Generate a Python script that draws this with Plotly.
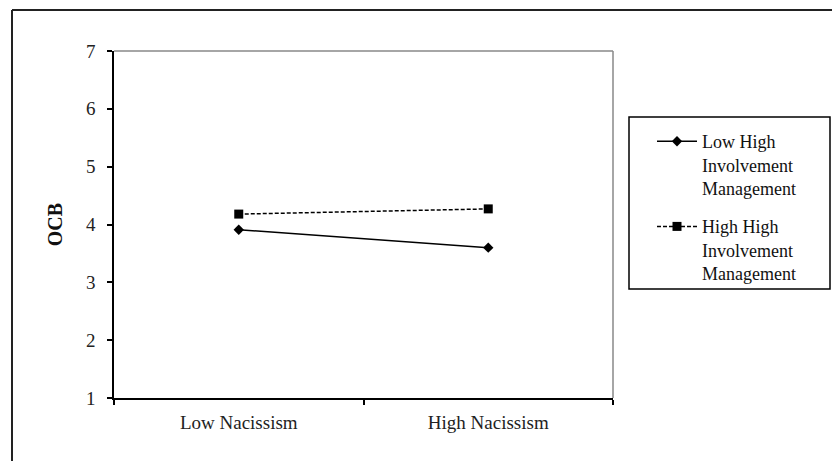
import plotly.graph_objects as go

categories = ["Low Nacissism", "High Nacissism"]
low_him = [3.91, 3.60]
high_him = [4.18, 4.27]
series_names = ["Low High<br>Involvement<br>Management", "High High<br>Involvement<br>Management"]
y_ticks = [1, 2, 3, 4, 5, 6, 7]

# page has an 8px body margin, so figure coords = screenshot coords - 8
OFF = 8
W, H = 832, 453
L, R, T, B = 114 - OFF, 613 - OFF, 51 - OFF, 398 - OFF  # plot area pixel bounds

def px_x(x):
    return (x - OFF - L) / (R - L)

def px_y(y):
    return (B - (y - OFF)) / (B - T)

serif = "Liberation Serif, Times New Roman, serif"

fig = go.Figure()
fig.add_trace(go.Scatter(
    x=categories, y=low_him, name=series_names[0], mode="lines+markers",
    legendgroup="a",
    line=dict(color="black", width=1.5),
    marker=dict(symbol="diamond", size=8, color="black"),
))
fig.add_trace(go.Scatter(
    x=categories, y=high_him, name=series_names[1], mode="lines+markers",
    legendgroup="b",
    line=dict(color="black", width=1.5, dash="4px,2px"),
    marker=dict(symbol="square", size=9, color="black"),
))

# outer frame (top and left lines, cropped)
fig.add_shape(type="line", xref="paper", yref="paper",
              x0=px_x(12), x1=px_x(850), y0=px_y(10), y1=px_y(10),
              line=dict(color="#222", width=2))
fig.add_shape(type="line", xref="paper", yref="paper",
              x0=px_x(12), x1=px_x(12), y0=px_y(10), y1=px_y(470),
              line=dict(color="#222", width=2))
# gray plot border top/right
fig.add_shape(type="line", xref="paper", yref="paper",
              x0=0, x1=1, y0=1, y1=1, line=dict(color="#888", width=1.5), layer="below")
fig.add_shape(type="line", xref="paper", yref="paper",
              x0=1, x1=1, y0=0, y1=1, line=dict(color="#888", width=1.5), layer="below")
# legend box
fig.add_shape(type="rect", xref="paper", yref="paper",
              x0=px_x(629), x1=px_x(830), y0=px_y(117), y1=px_y(289),
              line=dict(color="black", width=1.5))

fig.update_layout(
    width=W, height=H,
    margin=dict(l=L, r=W - R, t=T, b=H - B),
    paper_bgcolor="white", plot_bgcolor="white",
    font=dict(family=serif, color="black", size=18),
    showlegend=True,
    legend=dict(
        x=px_x(652), y=px_y(123), xanchor="left", yanchor="top",
        font=dict(family=serif, size=18, color="#111"),
        bgcolor="rgba(0,0,0,0)", borderwidth=0,
        valign="top", tracegroupgap=12, itemwidth=40,
    ),
    xaxis=dict(
        type="category", range=[-0.5, 1.5], tickson="boundaries",
        ticks="outside", ticklen=5, tickcolor="black", tickwidth=1.5,
        showline=True, linecolor="black", linewidth=1.5,
        showgrid=False, zeroline=False, ticklabelstandoff=6,
        tickfont=dict(family=serif, size=19, color="#222"),
    ),
    yaxis=dict(
        range=[1, 7], tickvals=y_ticks, ticks="outside", ticklen=5,
        tickcolor="black", tickwidth=1.5,
        showline=True, linecolor="black", linewidth=1.5,
        showgrid=False, zeroline=False, ticklabelstandoff=8,
        tickfont=dict(family=serif, size=19, color="#222"),
        title=dict(text="<b>OCB</b>", font=dict(family=serif, size=20, color="#111"), standoff=18),
    ),
)

fig.write_html("out.html")
